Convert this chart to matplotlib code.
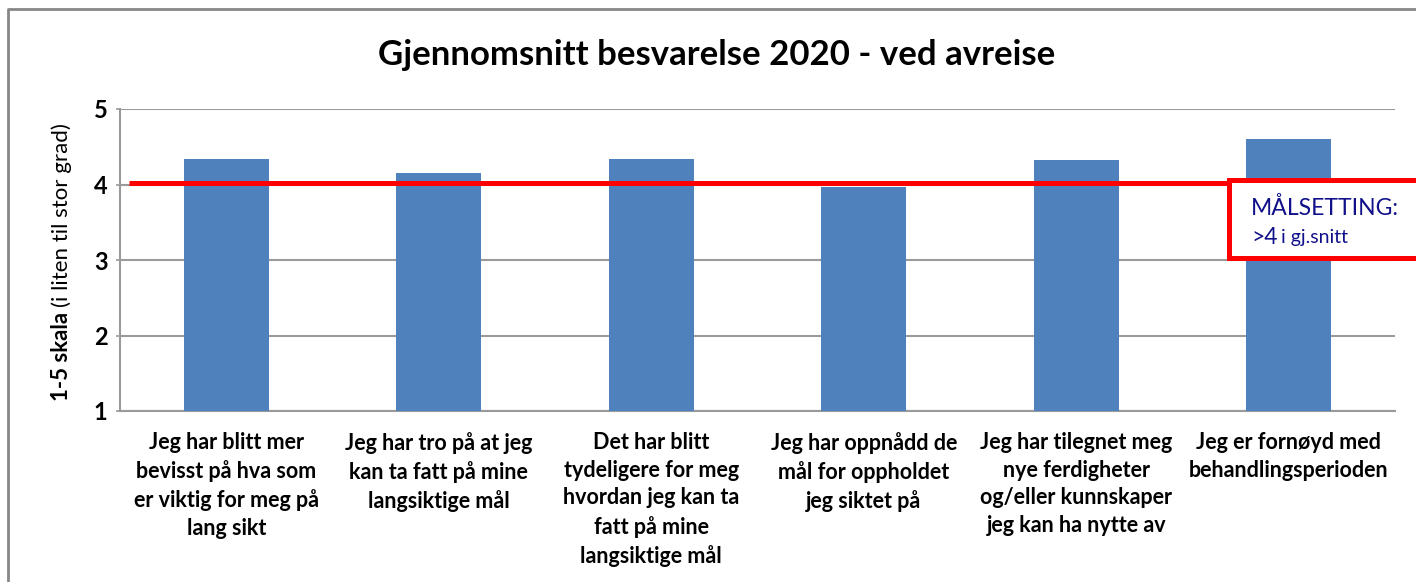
"""
Gjennomsnitt besvarelse 2020 - ved avreise: bar chart with goal line.
"""

import matplotlib
matplotlib.use("Agg")
import matplotlib.pyplot as plt
from matplotlib.patches import Rectangle
from matplotlib.lines import Line2D

categories = [
    "Jeg har blitt mer\nbevisst på hva som\ner viktig for meg på\nlang sikt",
    "Jeg har tro på at jeg\nkan ta fatt på mine\nlangsiktige mål",
    "Det har blitt\ntydeligere for meg\nhvordan jeg kan ta\nfatt på mine\nlangsiktige mål",
    "Jeg har oppnådd de\nmål for oppholdet\njeg siktet på",
    "Jeg har tilegnet meg\nnye ferdigheter\nog/eller kunnskaper\njeg kan ha nytte av",
    "Jeg er fornøyd med\nbehandlingsperioden",
]
values = [4.34, 4.15, 4.34, 3.97, 4.32, 4.60]
goal = 4.02
yticks = [1, 2, 3, 4, 5]

FONT = "Lato"
BAR = "#4F81BD"
GRID = "#9A9A9A"
RED = "#FF0000"
NAVY = "#10108A"

W, H = 1416, 582
fig = plt.figure(figsize=(W / 100, H / 100), dpi=100)
ax = fig.add_axes([120 / W, 1 - 411 / H, 1275 / W, 302 / H])

x = range(len(categories))
ax.bar(x, values, width=0.4, color=BAR, zorder=3)
ax.set_xlim(-0.5, len(categories) - 0.5)
ax.set_ylim(1, 5)
ax.set_yticks(yticks)
ax.set_yticklabels([str(t) for t in yticks], fontfamily=FONT,
                   fontweight="bold", fontsize=17)
ax.tick_params(axis="y", length=3, width=1.2, color=GRID, pad=6)
ax.set_xticks(list(x))
ax.set_xticklabels(categories, fontfamily=FONT, fontweight="bold",
                   fontsize=15.5, linespacing=1.4, va="top", ha="center")
ax.tick_params(axis="x", length=0, pad=15)
ax.yaxis.grid(True, color=GRID, linewidth=1.5, zorder=0)
for side in ["top", "right"]:
    ax.spines[side].set_visible(False)
for side in ["left", "bottom"]:
    ax.spines[side].set_color(GRID)
    ax.spines[side].set_linewidth(1.5)

# goal line up to the box
ax.plot([-0.46, 4.72], [goal, goal], color=RED, linewidth=3.6, zorder=4,
        solid_capstyle="butt")

# goal box (cut off by right edge like the original)
box = Rectangle((1229 / W, 1 - 258 / H), 300 / W, 78 / H, transform=fig.transFigure,
                facecolor="white", edgecolor=RED, linewidth=3.6, zorder=5)
fig.add_artist(box)
fig.text(1251 / W, 1 - 208 / H, "MÅLSETTING:", fontfamily=FONT, fontsize=16.5,
         color=NAVY, va="center", ha="left", zorder=6)
fig.text(1251 / W, 1 - 237 / H, ">4", fontfamily=FONT, fontsize=16.5,
         color=NAVY, va="center", ha="left", zorder=6)
fig.text(1281 / W, 1 - 238 / H, "i gj.snitt", fontfamily=FONT, fontsize=14,
         color=NAVY, va="center", ha="left", zorder=6)

# title
fig.text(717 / W, 1 - 55 / H, "Gjennomsnitt besvarelse 2020 - ved avreise",
         fontfamily=FONT, fontweight="bold", fontsize=25, ha="center", va="center")

# y label: bold part + regular part
fig.canvas.draw()
r = fig.canvas.get_renderer()
lab1 = fig.text(62 / W, 1 - 401 / H, "1-5 skala", rotation=90, fontfamily=FONT,
                fontweight="bold", fontsize=16, ha="center", va="bottom")
bb = lab1.get_window_extent(r)
fig.text(62 / W, (bb.y1 + 5) / H, "(i liten til stor grad)", rotation=90,
         fontfamily=FONT, fontsize=16, ha="center", va="bottom")

# outer chart frame
fig.add_artist(Line2D([8 / W, 8 / W, 1], [0, 1 - 9 / H, 1 - 9 / H],
                      transform=fig.transFigure, color="#888888", linewidth=2))

fig.savefig("out.png", dpi=100)
